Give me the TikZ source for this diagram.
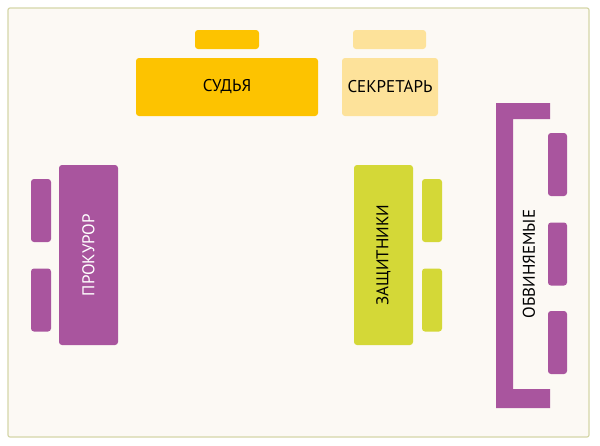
\documentclass[tikz,border=0pt]{standalone}
\usepackage{fontspec}
\setmainfont{PT Sans}
\definecolor{fond}{HTML}{FCF9F4}
\definecolor{cadre}{HTML}{D5D6A8}
\definecolor{juge}{HTML}{FDC300}
\definecolor{greffe}{HTML}{FDE29A}
\definecolor{violet}{HTML}{A9559E}
\definecolor{vert}{HTML}{D4D837}
\begin{document}
\begin{tikzpicture}[x=1pt,y=-1pt,every node/.style={font=\fontsize{17}{20}\selectfont}]
\tikzset{meuble/.style={rounded corners=3pt,inner sep=0pt,draw=none}}

    %Arrondi et taille des chaises
    \def \Arrondi {3pt}
    \def \ChaiseL {20}
    \def \ChaiseH {63}

\useasboundingbox (0,0) rectangle (600,445);
\fill[white] (0,0) rectangle (600,445);
\draw[color=cadre, fill=fond, line width=1.2pt, rounded corners=2pt] (8,8) rectangle (589,437); %cadre de la salle

% le juge et le secretaire
\node[meuble, fill=juge, minimum width=64, minimum height=19] (chaiseJ) at (227,39.5) {};
\node[meuble, fill=juge, minimum width=182, minimum height=58] (juge) at (227,87) {СУДЬЯ};
\node[meuble, fill=greffe, minimum width=73, minimum height=19] (chaiseS) at (389.5,39.5) {};
\node[meuble, fill=greffe, minimum width=96, minimum height=58] (greffe) at (390,87) {СЕКРЕТАРЬ};

% le procureur
\node[meuble, fill=violet, text=white, rotate=90, minimum width=180, minimum height=59] (procureur) at (88.5,255) {ПРОКУРОР};
\foreach \y [count=\i] in {210.5,300}{\node[meuble, fill=violet, minimum width=\ChaiseL, minimum height=\ChaiseH] (chaiseP\i) at (41,\y) {};}

% les avocats
\node[meuble, fill=vert, rotate=90, minimum width=180, minimum height=59] (avocats) at (383.5,255) {ЗАЩИТНИКИ};
\foreach \y [count=\i] in {210.5,300}{\node[meuble, fill=vert, minimum width=\ChaiseL, minimum height=\ChaiseH] (chaiseA\i) at (432,\y) {};}

% les accuses
\fill[violet] (496,103) -- (550,103) -- (550,119) -- (513,119) -- (513,389) -- (550,389) -- (550,408) -- (496,408) -- cycle; %banc en crochet
\node[rotate=90] (accuses) at (529,264) {ОБВИНЯЕМЫЕ};
\foreach \y [count=\i] in {164.5,254,342.5}{\node[meuble, fill=violet, minimum width=19, minimum height=\ChaiseH] (chaiseB\i) at (557.5,\y) {};}

\end{tikzpicture}
\end{document}
